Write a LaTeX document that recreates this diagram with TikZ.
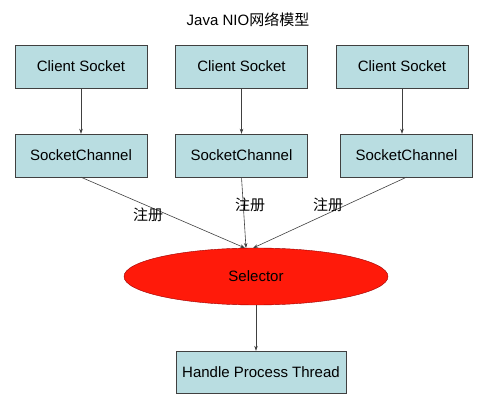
\documentclass[tikz,border=0pt]{standalone}
\usepackage{fontspec}
\setmainfont{Liberation Sans}
\newfontfamily\cjk{Noto Sans CJK SC}
\usetikzlibrary{arrows.meta,shapes.geometric}

\definecolor{boxfill}{HTML}{B9DDE1}
\definecolor{selred}{HTML}{FF1A0A}

\begin{document}
\begin{tikzpicture}[x=1pt,y=-1pt,
    every node/.style={font=\fontsize{15}{17}\selectfont},
    sockbox/.style={draw=black!75, fill=boxfill, minimum width=132pt, minimum height=43pt},
    link/.style={draw=black!75, line width=0.6pt, -{Stealth[length=5pt,width=3.5pt]}}]
    \useasboundingbox (0,0) rectangle (500,411);

    \node (title) at (248,20) {Java NIO{\cjk 网络模型}};

    \node[sockbox] (cs1) at (81,66.5) {Client Socket};
    \node[sockbox] (cs2) at (241.5,66.5) {Client Socket};
    \node[sockbox] (cs3) at (402,66.5) {Client Socket};

    \node[sockbox] (sc1) at (81,155.5) {SocketChannel};
    \node[sockbox] (sc2) at (241.5,155.5) {SocketChannel};
    \node[sockbox] (sc3) at (406.5,155.5) {SocketChannel};

    \node[ellipse, draw=red!60!black, fill=selred, minimum width=264pt, minimum height=57pt] (sel) at (256,276.5) {Selector};
    \node[sockbox, minimum width=170pt, minimum height=42pt] (hpt) at (261,372) {Handle Process Thread};

    \coordinate (in1) at (245,248);
    \coordinate (in2) at (246,248);
    \coordinate (in3) at (253,248);

    \draw[link] (cs1) -- (sc1);
    \draw[link] (cs2) -- (sc2);
    \draw[link] (cs3.south) -- (cs3.south |- sc3.north);
    \draw[link] (sc1.south) -- (in1);
    \draw[link] (sc2.south) -- (in2);
    \draw[link] (sc3.south) -- (in3);
    \draw[link] (sel.south) -- (sel.south |- hpt.north);

    \node (reg1) at (148,215) {\cjk 注册};
    \node (reg2) at (250,205) {\cjk 注册};
    \node (reg3) at (328,205) {\cjk 注册};
\end{tikzpicture}
\end{document}
